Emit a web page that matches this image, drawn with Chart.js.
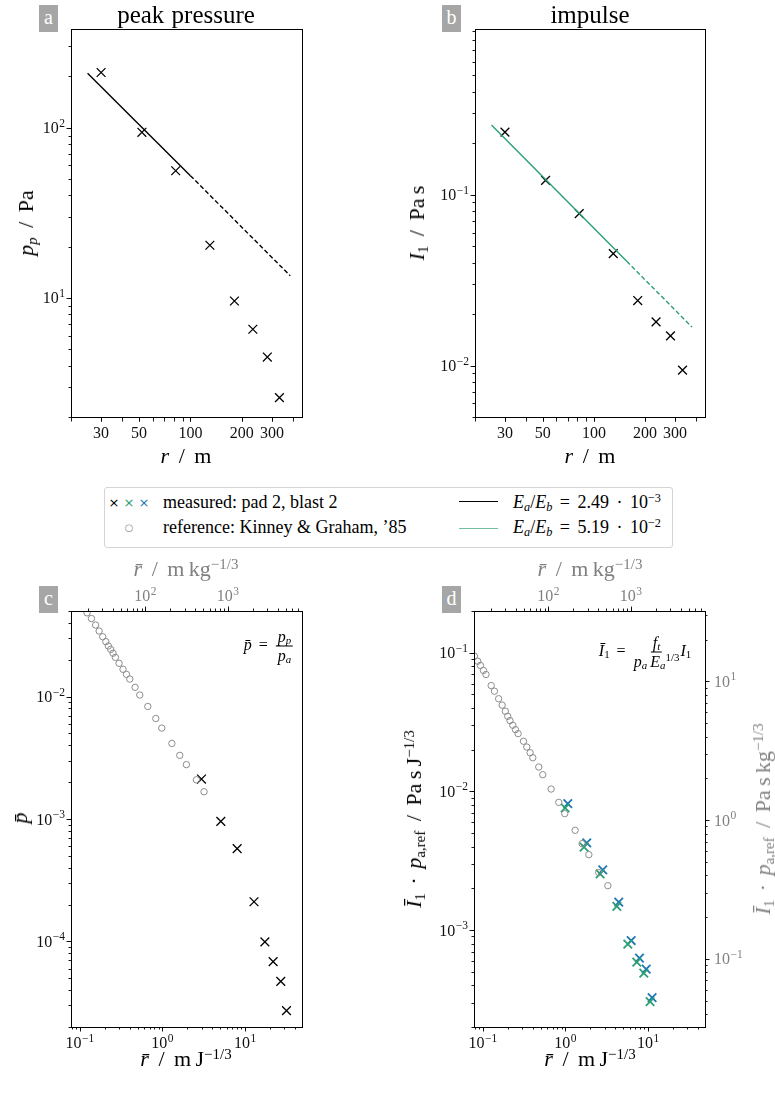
<!DOCTYPE html>
<html>
<head>
<meta charset="utf-8">
<script src="https://cdn.jsdelivr.net/npm/chart.js@4/dist/chart.umd.min.js"></script>
<style>
  html, body { margin: 0; padding: 0; background: #fff; }
  #page { position: relative; width: 775px; height: 1104px; overflow: hidden;
          font-family: 'Liberation Serif', serif; color: #000; }
  .panel { position: absolute; }
  .lab { position: absolute; transform: translate(-50%, -50%); white-space: nowrap;
         line-height: 1; font-size: 22px; }
  .rot { transform: translate(-50%, -50%) rotate(-90deg); }
  .grey { color: #808080; }
  .sl { display: inline-block; padding: 0 4px; }
  .op { display: inline-block; padding: 0 3px; }
  .tag { position: absolute; width: 19px; height: 27px; background: #a6a6a6; color: #fff;
         font-size: 20px; text-align: center; line-height: 25px; }
  sup { font-size: 0.68em; vertical-align: 0.5em; line-height: 0; }
  sub { font-size: 0.68em; vertical-align: -0.25em; line-height: 0; }
  .frac { display: inline-flex; flex-direction: column; align-items: center; vertical-align: middle; margin: 0 1px; }
  .frac .num { border-bottom: 1px solid #000; padding: 0 2px 1px 2px; }
  .frac .den { padding-top: 1px; }
  .leg { position: absolute; white-space: nowrap; line-height: 1; font-size: 18px; transform: translateY(-50%); }
  .mk { position: absolute; font-family: 'DejaVu Sans', sans-serif; font-size: 13px; line-height: 1;
        transform: translate(-50%, -50%); }
  .hl { position: absolute; height: 0; width: 39px; }
</style>
</head>
<body>
<div id="page">
  <div class="panel" style="left:0;top:0"><canvas id="chartA" width="387" height="470"></canvas></div>
  <div class="panel" style="left:387px;top:0"><canvas id="chartB" width="388" height="470"></canvas></div>
  <div class="panel" style="left:0;top:560px"><canvas id="chartC" width="387" height="544"></canvas></div>
  <div class="panel" style="left:387px;top:560px"><canvas id="chartD" width="388" height="544"></canvas></div>

  <!-- panel a -->
  <div class="tag" style="left:39px;top:5px">a</div>
  <div class="lab" style="left:186px;top:14px;font-size:25px;word-spacing:1px">peak pressure</div>
  <div class="lab" style="left:186px;top:456px"><i>r</i> <span class="sl">/</span> m</div>
  <div class="lab rot" style="left:26px;top:223px"><i>p<sub>p</sub></i> <span class="sl">/</span> Pa</div>

  <!-- panel b -->
  <div class="tag" style="left:442px;top:5px">b</div>
  <div class="lab" style="left:590px;top:14px;font-size:25px">impulse</div>
  <div class="lab" style="left:590px;top:456px"><i>r</i> <span class="sl">/</span> m</div>
  <div class="lab rot" style="left:417px;top:223px"><i>I</i><sub>1</sub> <span class="sl">/</span> Pa&thinsp;s</div>

  <!-- legend -->
  <div style="position:absolute;left:104px;top:487px;width:567px;height:59px;border:1px solid #d4d4d4;border-radius:3px"></div>
  <div class="mk" style="left:114px;top:502px;color:#000">×</div>
  <div class="mk" style="left:129px;top:502px;color:#2b9e74">×</div>
  <div class="mk" style="left:144px;top:502px;color:#1f77b4">×</div>
  <div class="mk" style="left:129px;top:528px;color:#8c8c8c;font-size:10px">○</div>
  <div class="leg" style="left:163px;top:502px">measured: pad 2, blast 2</div>
  <div class="leg" style="left:163px;top:527px">reference: Kinney &amp; Graham, ’85</div>
  <div class="hl" style="left:459px;top:501px;border-top:1.5px solid #000"></div>
  <div class="hl" style="left:459px;top:528px;border-top:1.5px solid #72bf9f"></div>
  <div class="leg" style="left:513px;top:502px"><i>E<sub>a</sub></i>/<i>E<sub>b</sub></i> <span class="op">=</span> 2.49 <span class="op">·</span> 10<sup>−3</sup></div>
  <div class="leg" style="left:513px;top:527px"><i>E<sub>a</sub></i>/<i>E<sub>b</sub></i> <span class="op">=</span> 5.19 <span class="op">·</span> 10<sup>−2</sup></div>

  <!-- panel c -->
  <div class="tag" style="left:39px;top:586px">c</div>
  <div class="lab grey" style="left:186px;top:569px"><i>r̄</i> <span class="sl">/</span> m&thinsp;kg<sup>−1/3</sup></div>
  <div class="lab" style="left:186px;top:1059px"><i>r̄</i> <span class="sl">/</span> m&thinsp;J<sup>−1/3</sup></div>
  <div class="lab rot" style="left:20px;top:818px"><i>p̄</i></div>
  <div class="lab" style="left:269px;top:646px;font-size:16px"><i>p̄</i> <span class="op">=</span> <span class="frac"><span class="num"><i>p<sub>p</sub></i></span><span class="den"><i>p<sub>a</sub></i></span></span></div>

  <!-- panel d -->
  <div class="tag" style="left:442px;top:586px">d</div>
  <div class="lab grey" style="left:590px;top:569px"><i>r̄</i> <span class="sl">/</span> m&thinsp;kg<sup>−1/3</sup></div>
  <div class="lab" style="left:590px;top:1059px"><i>r̄</i> <span class="sl">/</span> m&thinsp;J<sup>−1/3</sup></div>
  <div class="lab rot" style="left:414px;top:819px"><i>Ī</i><sub>1</sub> <span class="op">·</span> <i>p</i><sub>a,ref</sub> <span class="sl">/</span> Pa&thinsp;s&thinsp;J<sup>−1/3</sup></div>
  <div class="lab rot grey" style="left:763px;top:819px"><i>Ī</i><sub>1</sub> <span class="op">·</span> <i>p</i><sub>a,ref</sub> <span class="sl">/</span> Pa&thinsp;s&thinsp;kg<sup>−1/3</sup></div>
  <div class="lab" style="left:645px;top:652px;font-size:16px"><i>Ī</i><sub>1</sub> <span class="op">=</span> <span class="frac"><span class="num"><i>f<sub>t</sub></i></span><span class="den"><i>p<sub>a</sub></i>&thinsp;<i>E<sub>a</sub></i><sup>1/3</sup></span></span><i>I</i><sub>1</sub></div>
</div>

<script>
/**
 * Data
 */
// measured, pad 2 / blast 2
const rMeasured = [30, 52, 82, 130, 181, 232, 282, 332];                     // m
const peakPressure = [211, 94, 55.9, 20.4, 9.6, 6.55, 4.5, 2.6];             // Pa
const impulse = [0.232, 0.121, 0.0774, 0.0451, 0.024, 0.018, 0.0149, 0.0094]; // Pa s

// fitted power laws: solid over fit range, dashed extrapolation
const pressureFitR = [25, 100, 384];
const pressureFitP = [209, 52.3, 13.5];
const impulseFitR = [25, 156, 377];
const impulseFitI = [0.255, 0.0407, 0.0168];

// scaled peak pressure (panel c)
const rScaledP = [2.97, 5.09, 8.03, 12.85, 17.4, 21.9, 27.1, 31.8];
const pScaled = [2.12e-3, 9.56e-4, 5.73e-4, 2.11e-4, 9.93e-5, 6.83e-5, 4.72e-5, 2.72e-5];
const refPr = [0.122, 0.138, 0.155, 0.171, 0.189, 0.206, 0.221, 0.236, 0.252, 0.269, 0.298, 0.333,
               0.366, 0.402, 0.466, 0.531, 0.664, 0.830, 0.981, 1.30, 1.62, 1.95, 2.58, 3.19];
const refPp = [0.0483, 0.0434, 0.0384, 0.0343, 0.0308, 0.0281, 0.0259, 0.0243, 0.0226, 0.0209, 0.0187, 0.0167,
               0.0152, 0.0139, 0.0119, 0.0103, 0.0083, 0.00662, 0.00553, 0.00414, 0.00331, 0.00278, 0.00209, 0.00167];

// scaled impulse (panel d)
const rScaledBlue = [1.067, 1.81, 2.83, 4.42, 6.25, 7.88, 9.5, 11.2];
const iScaledBlue = [0.00816, 0.00425, 0.00272, 0.00159, 8.41e-4, 6.28e-4, 5.23e-4, 3.26e-4];
const rScaledGreen = [0.991, 1.68, 2.63, 4.19, 5.69, 7.31, 8.89, 10.6];
const iScaledGreen = [0.0076, 0.00397, 0.00254, 0.00148, 7.92e-4, 5.87e-4, 4.89e-4, 3.05e-4];
const refIr = [0.0789, 0.0865, 0.0933, 0.1015, 0.109, 0.126, 0.138, 0.155, 0.171, 0.187, 0.2, 0.213, 0.230,
               0.248, 0.267, 0.310, 0.34, 0.373, 0.402, 0.475, 0.531, 0.670, 0.830, 0.981, 1.31, 1.59, 1.92, 2.53, 3.26];
const refIi = [0.0945, 0.0869, 0.081, 0.0745, 0.0697, 0.058, 0.0528, 0.0466, 0.0419, 0.0379, 0.0348, 0.0324, 0.030,
               0.0279, 0.0261, 0.023, 0.0209, 0.019, 0.0175, 0.0150, 0.0132, 0.0104, 0.00834, 0.00691, 0.00524, 0.0042,
               0.0035, 0.0026, 0.00209];

// axis limits and tick labels
const rLimits = [20, 450];
const pressureLimits = [2, 380];
const impulseLimits = [0.005, 0.93];
const rScaledLimits = [0.078, 49];
const pScaledLimits = [2e-5, 0.05];
const iScaledLimits = [2e-4, 0.2];
const kgFactor = 161.1;   // (J/kg)^(1/3) conversion for the grey axes

const rTicks = [30, 50, 100, 200, 300];
const rTickLabels = ['30', '50', '100', '200', '300'];
const pressureTicks = [10, 100];
const pressureTickLabels = ['10^1', '10^2'];
const impulseTicks = [0.01, 0.1];
const impulseTickLabels = ['10^−2', '10^−1'];
const rScaledTicks = [0.1, 1, 10];
const rScaledTickLabels = ['10^−1', '10^0', '10^1'];
const rKgTicks = [100, 1000];
const rKgTickLabels = ['10^2', '10^3'];
const pScaledTicks = [1e-4, 1e-3, 1e-2];
const pScaledTickLabels = ['10^−4', '10^−3', '10^−2'];
const iScaledTicks = [1e-3, 1e-2, 1e-1];
const iScaledTickLabels = ['10^−3', '10^−2', '10^−1'];
const iKgTicks = [0.1, 1, 10];
const iKgTickLabels = ['10^−1', '10^0', '10^1'];

const BLACK = '#000000';
const GREEN = '#2b9e74';
const BLUE = '#1f77b4';
const GREY = '#8c8c8c';


/**
 * Helpers
 */
function points(xs, ys) {
    return xs.map((x, i) => ({ x: x, y: ys[i] }));
}

function minorTicks(min, max) {
    const ticks = [];
    for (let e = Math.floor(Math.log10(min)); e <= Math.ceil(Math.log10(max)); e++) {
        for (let m = 1; m < 10; m++) {
            const v = m * Math.pow(10, e);
            if (v >= min * 0.999 && v <= max * 1.001) ticks.push(v);
        }
    }
    return ticks;
}

function crosses(xs, ys, color, radius, width) {
    return {
        data: points(xs, ys), pointStyle: 'crossRot', pointRadius: radius,
        borderColor: color, pointBorderWidth: width, showLine: false
    };
}

function circles(xs, ys) {
    return {
        data: points(xs, ys), pointStyle: 'circle', pointRadius: 3.2,
        borderColor: GREY, backgroundColor: 'rgba(0,0,0,0)', pointBorderWidth: 1, showLine: false
    };
}

function fitLine(xs, ys, color, dashed) {
    return {
        data: points(xs, ys), showLine: true, pointRadius: 0, borderColor: color,
        borderWidth: 1.4, borderDash: dashed ? [4.5, 2.5] : []
    };
}

function logScale(limits, position) {
    return { type: 'logarithmic', display: false, position: position, min: limits[0], max: limits[1] };
}

/**
 * Matplotlib-like frame, ticks and labels, drawn from the chart's scales
 */
const MAIN_FONT = "16px 'Liberation Serif'";
const SUP_FONT = "11.5px 'Liberation Serif'";

function labelWidth(ctx, text) {
    const [base, exp] = text.split('^');
    ctx.font = MAIN_FONT;
    let w = ctx.measureText(base).width;
    if (exp) {
        ctx.font = SUP_FONT;
        w += ctx.measureText(exp).width + 0.5;
    }
    return w;
}

function drawLabel(ctx, text, x, baseline, color) {
    const [base, exp] = text.split('^');
    ctx.fillStyle = color;
    ctx.textAlign = 'left';
    ctx.textBaseline = 'alphabetic';
    ctx.font = MAIN_FONT;
    ctx.fillText(base, x, baseline);
    if (exp) {
        const w = ctx.measureText(base).width;
        ctx.font = SUP_FONT;
        ctx.fillText(exp, x + w + 0.5, baseline - 6.5);
    }
}

function drawAxis(ctx, scale, ax, area) {
    const horiz = ax.side === 'top' || ax.side === 'bottom';
    const sign = (ax.side === 'bottom' || ax.side === 'right') ? 1 : -1;
    const edge = area[ax.side];
    ctx.strokeStyle = ax.tickColor || BLACK;
    ctx.lineWidth = 0.9;
    const mark = (v, len) => {
        const p = Math.round(scale.getPixelForValue(v)) + 0.5;
        ctx.beginPath();
        if (horiz) { ctx.moveTo(p, edge); ctx.lineTo(p, edge + sign * len); }
        else { ctx.moveTo(edge, p); ctx.lineTo(edge + sign * len, p); }
        ctx.stroke();
    };
    ax.minor.forEach(v => mark(v, ax.minorLen || 2.5));
    ax.major.forEach(v => mark(v, 4.5));

    ax.major.forEach((v, i) => {
        const text = ax.labels[i];
        const p = scale.getPixelForValue(v);
        const w = labelWidth(ctx, text);
        const color = ax.labelColor || '#111';
        if (ax.side === 'bottom') drawLabel(ctx, text, p - w / 2, edge + 21, color);
        else if (ax.side === 'top') drawLabel(ctx, text, p - w / 2, edge - 10, color);
        else if (ax.side === 'left') drawLabel(ctx, text, edge - 6 - w, p + 5.5, color);
        else drawLabel(ctx, text, edge + 9, p + 5.5, color);
    });
}

const mplAxes = {
    id: 'mplAxes',
    afterDatasetsDraw(chart, args, opts) {
        const ctx = chart.ctx;
        const a = chart.chartArea;
        ctx.save();
        for (const ax of opts.axes) drawAxis(ctx, chart.scales[ax.id], ax, a);
        ctx.strokeStyle = BLACK;
        ctx.lineWidth = 1;
        ctx.strokeRect(Math.round(a.left) + 0.5, Math.round(a.top) + 0.5,
                       Math.round(a.right - a.left), Math.round(a.bottom - a.top));
        ctx.restore();
    }
};

function makeChart(id, datasets, scales, axes, padding) {
    return new Chart(document.getElementById(id), {
        type: 'scatter',
        data: { datasets: datasets },
        options: {
            responsive: false,
            animation: false,
            devicePixelRatio: 1,
            events: [],
            layout: { padding: padding },
            scales: scales,
            plugins: {
                legend: { display: false },
                tooltip: { enabled: false },
                mplAxes: { axes: axes }
            }
        },
        plugins: [mplAxes]
    });
}


/**
 * Panel a: peak pressure
 */
makeChart('chartA', [
    fitLine(pressureFitR.slice(0, 2), pressureFitP.slice(0, 2), BLACK, false),
    fitLine(pressureFitR.slice(1), pressureFitP.slice(1), BLACK, true),
    crosses(rMeasured, peakPressure, BLACK, 6.2, 1.3)
], {
    x: logScale(rLimits, 'bottom'),
    y: logScale(pressureLimits, 'left')
}, [
    { id: 'x', side: 'bottom', major: rTicks, labels: rTickLabels,
      minor: minorTicks(rLimits[0], rLimits[1]), minorLen: 4.5 },
    { id: 'y', side: 'left', major: pressureTicks, labels: pressureTickLabels,
      minor: minorTicks(pressureLimits[0], pressureLimits[1]) }
], { left: 71, top: 29, right: 387 - 302, bottom: 470 - 417 });


/**
 * Panel b: impulse
 */
makeChart('chartB', [
    fitLine(impulseFitR.slice(0, 2), impulseFitI.slice(0, 2), GREEN, false),
    fitLine(impulseFitR.slice(1), impulseFitI.slice(1), GREEN, true),
    crosses(rMeasured, impulse, BLACK, 6.2, 1.3)
], {
    x: logScale(rLimits, 'bottom'),
    y: logScale(impulseLimits, 'left')
}, [
    { id: 'x', side: 'bottom', major: rTicks, labels: rTickLabels,
      minor: minorTicks(rLimits[0], rLimits[1]), minorLen: 4.5 },
    { id: 'y', side: 'left', major: impulseTicks, labels: impulseTickLabels,
      minor: minorTicks(impulseLimits[0], impulseLimits[1]) }
], { left: 475 - 387, top: 29, right: 388 - 318, bottom: 470 - 417 });


/**
 * Panel c: scaled peak pressure
 */
const rKgLimits = rScaledLimits.map(v => v * kgFactor);
makeChart('chartC', [
    circles(refPr, refPp),
    crosses(rScaledP, pScaled, BLACK, 6.2, 1.3)
], {
    x: logScale(rScaledLimits, 'bottom'),
    y: logScale(pScaledLimits, 'left'),
    x2: Object.assign(logScale(rKgLimits, 'top'), { axis: 'x' })
}, [
    { id: 'x', side: 'bottom', major: rScaledTicks, labels: rScaledTickLabels,
      minor: minorTicks(rScaledLimits[0], rScaledLimits[1]) },
    { id: 'y', side: 'left', major: pScaledTicks, labels: pScaledTickLabels,
      minor: minorTicks(pScaledLimits[0], pScaledLimits[1]) },
    { id: 'x2', side: 'top', major: rKgTicks, labels: rKgTickLabels, labelColor: '#808080',
      minor: minorTicks(rKgLimits[0], rKgLimits[1]) }
], { left: 71, top: 51, right: 387 - 302, bottom: 544 - 467 });


/**
 * Panel d: scaled impulse
 */
const iKgLimits = iScaledLimits.map(v => v * kgFactor);
makeChart('chartD', [
    circles(refIr, refIi),
    crosses(rScaledGreen, iScaledGreen, GREEN, 6, 1.8),
    crosses(rScaledBlue, iScaledBlue, BLUE, 6, 1.8)
], {
    x: logScale(rScaledLimits, 'bottom'),
    y: logScale(iScaledLimits, 'left'),
    x2: Object.assign(logScale(rKgLimits, 'top'), { axis: 'x' }),
    y2: Object.assign(logScale(iKgLimits, 'right'), { axis: 'y' })
}, [
    { id: 'x', side: 'bottom', major: rScaledTicks, labels: rScaledTickLabels,
      minor: minorTicks(rScaledLimits[0], rScaledLimits[1]) },
    { id: 'y', side: 'left', major: iScaledTicks, labels: iScaledTickLabels,
      minor: minorTicks(iScaledLimits[0], iScaledLimits[1]) },
    { id: 'x2', side: 'top', major: rKgTicks, labels: rKgTickLabels, labelColor: '#808080',
      minor: minorTicks(rKgLimits[0], rKgLimits[1]) },
    { id: 'y2', side: 'right', major: iKgTicks, labels: iKgTickLabels, labelColor: '#808080',
      minor: minorTicks(iKgLimits[0], iKgLimits[1]) }
], { left: 474 - 387, top: 51, right: 388 - 318, bottom: 544 - 467 });
</script>
</body>
</html>
